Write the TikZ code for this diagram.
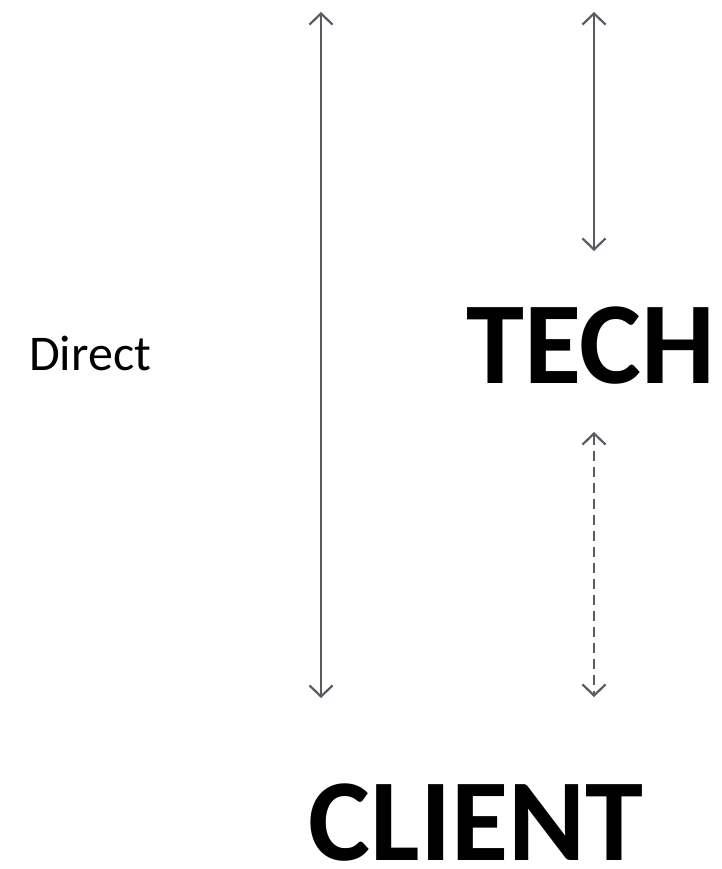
\documentclass[tikz,border=0pt]{standalone}
\usepackage{fontspec}
\setmainfont{Carlito}
\usetikzlibrary{arrows.meta}
\definecolor{linegray}{HTML}{595A62}
\tikzstyle{label} = [inner sep=0pt, anchor=base, text=black]
\tikzstyle{big} = [label, font=\bfseries\fontsize{117}{117}\selectfont]
\tikzstyle{link} = [draw=linegray, line width=2pt, <->]

\begin{document}
\begin{tikzpicture}[x=1pt,y=-1pt,>={Straight Barb[length=11pt,width=23pt,line width=2.2pt]}]
  \useasboundingbox (0,0) rectangle (721,869);

  \node[label, font=\fontsize{50}{50}\selectfont] (direct) at (90,370) {Direct};
  \node[big] (tech)   at (591,383) {TECH};
  \node[big] (client) at (476,860) {CLIENT};

  \coordinate (d1) at (321,12);
  \coordinate (d2) at (321,698);
  \coordinate (t1) at (594,12);
  \coordinate (t2) at (594,251);
  \coordinate (c1) at (594,432);
  \coordinate (c2) at (594,697);

  \draw[link] (d1) -- (d2);
  \draw[link] (t1) -- (t2);
  \draw[link, dash pattern=on 10pt off 6pt] (c1) -- (c2);
\end{tikzpicture}
\end{document}
